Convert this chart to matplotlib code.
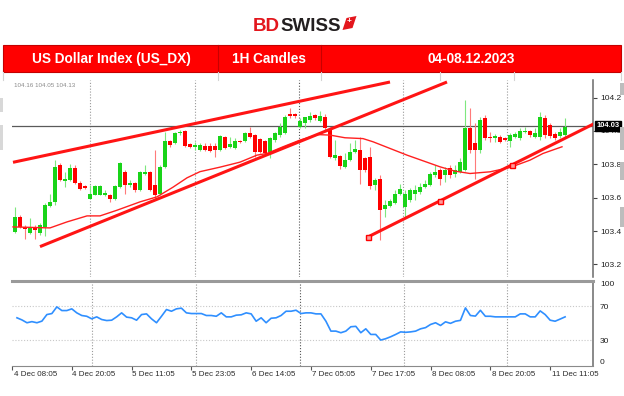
import numpy as np
import matplotlib
matplotlib.use("Agg")
import matplotlib.pyplot as plt
from matplotlib.patches import Rectangle, Polygon
from matplotlib.lines import Line2D

plt.rcParams['font.family'] = ['Liberation Sans', 'DejaVu Sans']

# US_DX hourly candles, 4 Dec 08:05 -> 11 Dec
opens = [103.395, 103.485, 103.425, 103.391, 103.425, 103.391, 103.425, 103.551, 103.575, 103.795,
         103.703, 103.705, 103.775, 103.691, 103.669, 103.595, 103.619, 103.619, 103.619, 103.615,
         103.595, 103.665, 103.755, 103.675, 103.691, 103.645, 103.743, 103.755, 103.675, 103.625,
         103.785, 103.939, 103.925, 103.985, 103.999, 103.919, 103.905, 103.885, 103.911, 103.911,
         103.911, 103.885, 103.965, 103.905, 103.895, 103.939, 103.939, 103.985, 103.975, 103.949,
         103.939, 103.875, 103.945, 103.975, 103.985, 104.099, 104.099, 104.025, 104.047, 104.065,
         104.095, 104.061, 104.085, 104.005, 103.835, 103.849, 103.785, 103.825, 103.871, 103.885,
         103.839, 103.843, 103.679, 103.711, 103.535, 103.551, 103.571, 103.625, 103.545, 103.585,
         103.625, 103.635, 103.665, 103.679, 103.735, 103.765, 103.735, 103.775, 103.739, 103.755,
         103.765, 104.015, 103.925, 103.885, 104.075, 103.965, 103.955, 103.965, 103.959, 103.939,
         103.965, 103.955, 103.991, 103.999, 103.965, 103.965, 104.079, 104.035, 103.979, 103.971,
         103.975]
highs = [103.545, 103.495, 103.435, 103.479, 103.435, 103.447, 103.567, 103.625, 103.825, 103.805,
         103.755, 103.799, 103.795, 103.699, 103.675, 103.675, 103.675, 103.675, 103.645, 103.625,
         103.675, 103.811, 103.765, 103.705, 103.695, 103.759, 103.795, 103.759, 103.885, 103.795,
         103.995, 103.945, 103.995, 104.005, 104.005, 103.925, 103.935, 103.925, 103.925, 103.925,
         103.925, 103.975, 103.969, 103.965, 103.955, 103.945, 103.995, 104.025, 103.979, 103.955,
         103.945, 103.965, 103.995, 104.045, 104.095, 104.139, 104.105, 104.075, 104.085, 104.113,
         104.101, 104.119, 104.101, 104.025, 103.945, 103.855, 103.865, 103.925, 103.945, 103.965,
         103.845, 103.905, 103.717, 103.735, 103.585, 103.595, 103.645, 103.685, 103.645, 103.657,
         103.675, 103.687, 103.705, 103.755, 103.795, 103.775, 103.785, 103.795, 103.795, 103.837,
         104.185, 104.135, 104.045, 104.085, 104.095, 103.991, 103.979, 103.975, 103.965, 103.985,
         103.995, 104.015, 104.025, 104.005, 104.015, 104.115, 104.095, 104.045, 103.995, 104.015,
         104.075]
lows = [103.391, 103.419, 103.351, 103.385, 103.351, 103.375, 103.371, 103.545, 103.555, 103.699,
        103.665, 103.699, 103.685, 103.649, 103.655, 103.591, 103.615, 103.615, 103.613, 103.575,
        103.585, 103.659, 103.625, 103.665, 103.635, 103.639, 103.735, 103.639, 103.595, 103.619,
        103.779, 103.905, 103.919, 103.975, 103.905, 103.899, 103.885, 103.879, 103.879, 103.875,
        103.845, 103.879, 103.891, 103.899, 103.891, 103.925, 103.935, 103.959, 103.845, 103.865,
        103.859, 103.839, 103.935, 103.965, 103.979, 104.077, 104.077, 104.015, 104.015, 104.053,
        104.065, 104.053, 104.005, 103.837, 103.825, 103.771, 103.777, 103.819, 103.865, 103.685,
        103.755, 103.651, 103.645, 103.345, 103.485, 103.545, 103.565, 103.615, 103.485, 103.573,
        103.585, 103.625, 103.657, 103.671, 103.725, 103.675, 103.695, 103.717, 103.725, 103.747,
        103.759, 103.867, 103.715, 103.867, 103.945, 103.935, 103.935, 103.925, 103.939, 103.905,
        103.955, 103.945, 103.985, 103.965, 103.955, 103.945, 103.955, 103.955, 103.945, 103.957,
        103.965]
closes = [103.485, 103.425, 103.411, 103.425, 103.405, 103.435, 103.555, 103.575, 103.785, 103.705,
          103.711, 103.775, 103.691, 103.655, 103.659, 103.625, 103.671, 103.669, 103.631, 103.591,
          103.669, 103.805, 103.679, 103.691, 103.645, 103.755, 103.755, 103.645, 103.619, 103.785,
          103.939, 103.915, 103.985, 103.995, 103.911, 103.905, 103.915, 103.915, 103.885, 103.879,
          103.885, 103.969, 103.895, 103.919, 103.939, 103.931, 103.985, 103.965, 103.875, 103.871,
          103.865, 103.955, 103.985, 104.025, 104.085, 104.091, 104.091, 104.059, 104.083, 104.091,
          104.075, 104.091, 104.015, 103.845, 103.855, 103.791, 103.825, 103.875, 103.891, 103.765,
          103.765, 103.669, 103.705, 103.525, 103.555, 103.579, 103.625, 103.655, 103.625, 103.645,
          103.645, 103.665, 103.685, 103.739, 103.755, 103.715, 103.765, 103.735, 103.765, 103.815,
          104.015, 103.885, 103.885, 104.065, 103.955, 103.955, 103.969, 103.935, 103.945, 103.975,
          103.979, 103.999, 103.999, 103.975, 103.985, 104.085, 103.975, 103.971, 103.959, 103.995,
          104.025]

# moving average (bar index, price)
ma_bars = [-0.4, 7, 10.4, 14.4, 17, 20.4, 25, 28.4, 31.6, 34.4, 37, 41, 45, 48.4, 50.4, 53.6,
           57, 60.6, 63, 66, 69.6, 71.6, 78.4, 85, 88, 91, 95, 99, 103, 105.6, 109.4]
ma_vals = [103.425, 103.419, 103.455, 103.491, 103.491, 103.525, 103.575, 103.605, 103.663,
           103.719, 103.756, 103.783, 103.813, 103.855, 103.865, 103.905, 103.945, 103.978,
           103.975, 103.959, 103.954, 103.935, 103.855, 103.785, 103.759, 103.745, 103.755,
           103.781, 103.825, 103.865, 103.905]

rsi = [56.5, 54, 50.7, 52, 50.7, 52.6, 60.3, 61.5, 69.3, 65,
       65, 67, 62.3, 59.2, 58.3, 55.3, 57.6, 54.5, 53.3, 53.7,
       57.6, 62.3, 57.3, 56.5, 53.7, 60.3, 61.1, 55.3, 50.7, 58.3,
       66.2, 64.2, 67, 67.8, 62.3, 61.5, 61.5, 61.5, 59.2, 59.2,
       58.3, 62.3, 57.6, 57.6, 59.6, 60, 62.3, 61.1, 52.5, 56.5,
       50.7, 56, 56.5, 59.2, 64.2, 64.2, 65.4, 61.5, 62.3, 62.3,
       61.1, 61.1, 52.5, 40.9, 40.9, 39, 40.9, 46, 46.5, 39,
       43.6, 37, 37, 30.4, 32, 34.3, 37, 40, 39.5, 40,
       40.9, 43.6, 45, 48.7, 50.7, 47.5, 51.8, 50, 52.5, 53.5,
       68.1, 59.2, 58.5, 65.3, 58.3, 58.3, 57.6, 57.6, 57.6, 57.6,
       57.6, 61.1, 61.1, 57.6, 57.6, 64.6, 60.3, 53.7, 52.5, 55,
       57.6]

current_price = 104.03

# trend lines as (bar, price) anchor pairs
channel_top = [(-0.4, 103.812), (75, 104.293)]
channel_bottom = [(5, 103.307), (86.4, 104.293)]
support = [(70.66, 103.366), (116, 104.046)]
support_marks = [70.66, 85, 99.3]

time_labels = ["4 Dec 08:05", "4 Dec 20:05", "5 Dec 11:05", "5 Dec 23:05", "6 Dec 14:05",
               "7 Dec 05:05", "7 Dec 17:05", "8 Dec 08:05", "8 Dec 20:05", "11 Dec 11:05"]
label_bars = [-1, 11, 23, 35, 47, 59, 71, 83, 95, 107]
grid_bars = [15, 36, 56.8, 77.6, 98.4]

price_ticks = [103.2, 103.4, 103.6, 103.8, 104.0, 104.2]
rsi_ticks = [0, 30, 70, 100]

W, H = 624, 396
fig = plt.figure(figsize=(W / 100, H / 100), dpi=100)


def fx(x):
    return x / W


def fy(y):
    return 1 - y / H


# ---- header ----
bd = fig.text(fx(253), fy(31), "BD", color='#e3161d', weight='bold', size=13.5,
              ha='left', va='baseline')
fig.canvas.draw()
bb = bd.get_window_extent()
sw = fig.text(bb.x1 / W, fy(31), "SWISS", color='#231f20', weight='bold', size=13.5,
              ha='left', va='baseline')
fig.canvas.draw()
x1 = sw.get_window_extent().x1
flag = [(x1 + 2, 30), (x1 + 6, 18), (x1 + 16, 16), (x1 + 12, 28)]
fig.patches.append(Polygon([(px / W, fy(py)) for px, py in flag], closed=True,
                           transform=fig.transFigure, fc='#e3161d', ec='none'))
fig.text((x1 + 9) / W, fy(22), "+", color='white', weight='bold', size=6,
         ha='center', va='center')

fig.patches.append(Rectangle((fx(3), fy(72)), fx(618), 27 / H, transform=fig.transFigure,
                             fc='#ff0000', ec='#c40000', lw=0.8))
for xd in [218, 321]:
    fig.add_artist(Line2D([fx(xd)] * 2, [fy(72), fy(45)], color='#c80000', lw=0.8))
for xd in [3, 218, 321, 440, 514, 621]:
    fig.add_artist(Line2D([fx(xd)] * 2, [fy(80), fy(72)], color='#d4d4d4', lw=0.8))
fig.text(fx(111), fy(59), "US Dollar Index (US_DX)", color='white', weight='bold', size=9.8,
         ha='center', va='center')
fig.text(fx(269), fy(59), "1H Candles", color='white', weight='bold', size=9.8,
         ha='center', va='center')
fig.text(fx(471), fy(59), "04-08.12.2023", color='white', weight='bold', size=9.8,
         ha='center', va='center')

# edge artefacts of the screenshot
for y0, y1 in [(98, 112), (125, 150)]:
    fig.patches.append(Rectangle((0, fy(y1)), fx(3), (y1 - y0) / H,
                                 transform=fig.transFigure, fc='#d8d8d8', ec='none'))
for y0, y1 in [(83, 95), (127, 150), (162, 180), (207, 227)]:
    fig.patches.append(Rectangle((fx(620), fy(y1)), fx(4), (y1 - y0) / H,
                                 transform=fig.transFigure, fc='#bdbdbd', ec='none'))

# ---- price panel ----
ax = fig.add_axes([fx(12), fy(277), 581 / W, 197 / H])
ax.set_xlim(-0.6, 115.6)
ax.set_ylim(103.125, 104.305)

n = len(opens)
idx = np.arange(n)
o = np.array(opens)
c = np.array(closes)
up = c >= o
for g in grid_bars:
    ax.axvline(g, color='#555555' if g == 56.8 else '#9a9a9a', lw=0.8, ls=(0, (1, 1.6)), zorder=1)
ax.axhline(current_price, color='#5a5a5a', lw=0.9, zorder=2)

wick_col = np.where(up, '#7ee87e', '#ff7a7a')
ax.vlines(idx, lows, highs, colors=wick_col, lw=0.8, zorder=3)
body_col = np.where(up, '#19d419', '#ff0000')
ax.bar(idx, np.maximum(np.abs(c - o), 0.004), bottom=np.minimum(o, c), width=0.62,
       color=body_col, lw=0, zorder=4)

ax.plot(ma_bars, ma_vals, color='#ff2020', lw=1.0, zorder=5)
for line in [channel_top, channel_bottom, support]:
    (xa, ya), (xb, yb) = line
    ax.plot([xa, xb], [ya, yb], color='#ff1414', lw=2.2, solid_capstyle='butt', zorder=6)
(xa, ya), (xb, yb) = support
mark_y = [ya + (yb - ya) * (m - xa) / (xb - xa) for m in support_marks]
ax.plot(support_marks, mark_y, ls='none', marker='s', ms=3.6, mfc='#ff9a9a', mec='#ff0000',
        mew=1, zorder=7)

for s in ['left', 'top', 'bottom']:
    ax.spines[s].set_visible(False)
ax.spines['right'].set_color('#6a6a6a')
ax.spines['right'].set_linewidth(1.1)
ax.set_xticks([])
ax.yaxis.tick_right()
ax.set_yticks(price_ticks)
ax.set_yticklabels([f"{t:.1f}" for t in price_ticks])
ax.tick_params(axis='y', length=3, width=0.8, color='#444444', labelsize=6, labelcolor='#222222',
               pad=2)
ax.text(1.006, current_price, f"{current_price:.2f}", transform=ax.get_yaxis_transform(),
        ha='left', va='center', color='white', size=5.4, weight='bold', clip_on=False, zorder=10,
        bbox=dict(boxstyle='square,pad=0.2', fc='black', ec='black'))
ax.text(0.004, 0.985, "104.16 104.05 104.13", transform=ax.transAxes, ha='left', va='top',
        size=4.5, color='#8a8a8a')

# ---- RSI panel ----
rx = fig.add_axes([fx(12), fy(366), 581 / W, 85.3 / H])
rx.set_xlim(-0.6, 115.6)
rx.set_ylim(0, 100)
for g in grid_bars:
    rx.axvline(g, color='#555555' if g == 56.8 else '#9a9a9a', lw=0.8, ls=(0, (1, 1.6)), zorder=1)
for lv in [30, 70]:
    rx.axhline(lv, color='#c8c8c8', lw=0.8, ls=(0, (1, 1.6)), zorder=1)
rx.plot(idx, rsi, color='#2f8fff', lw=1.2, zorder=3)

rx.spines['left'].set_visible(False)
rx.spines['top'].set_color('#9a9a9a')
rx.spines['top'].set_linewidth(2.2)
rx.spines['bottom'].set_color('#8a8a8a')
rx.spines['right'].set_color('#6a6a6a')
rx.spines['right'].set_linewidth(1.1)
rx.yaxis.tick_right()
rx.set_yticks(rsi_ticks)
rx.set_yticklabels([str(t) for t in rsi_ticks])
rx.tick_params(axis='y', length=0, labelsize=6, labelcolor='#222222', pad=5)
for lab, t in zip(rx.get_yticklabels(), rsi_ticks):
    if t == 100:
        lab.set_va('top')
    elif t == 0:
        lab.set_va('bottom')
rx.set_xticks(label_bars)
rx.set_xticklabels([''] * len(label_bars))
rx.tick_params(axis='x', length=3, width=0.8, color='#555555')

# time labels along the bottom of the RSI panel
lx = fig.add_axes([fx(13), fy(384), 611 / W, 18 / H])
lx.set_xlim(-0.4, 121.8)
lx.set_ylim(0, 1)
lx.axis('off')
for b, t in zip(label_bars, time_labels):
    lx.text(max(b + 0.4, -0.3), 0.5, t, ha='left', va='center', size=5.8, color='#2a2a2a',
            clip_on=True)

fig.savefig("out.png", dpi=100)
